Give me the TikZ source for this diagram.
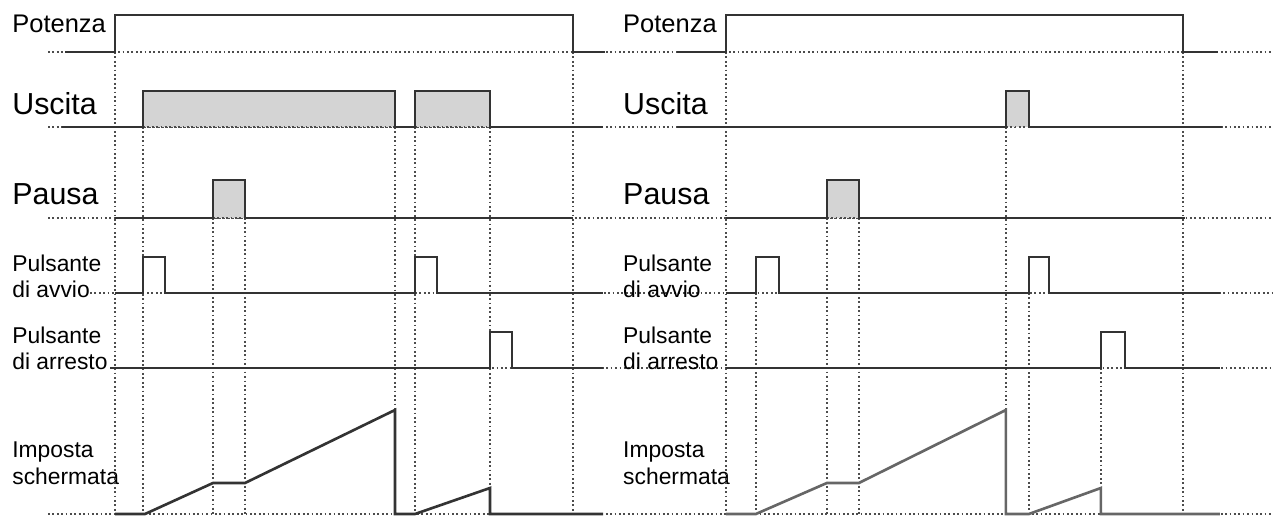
\documentclass[tikz,border=0pt]{standalone}
\usepackage{fontspec}
\setmainfont{Liberation Sans}

\begin{document}
\begin{tikzpicture}[x=0.02cm, y=-0.02cm,
  sig/.style={line width=1.5pt, draw=black!80},
  guide/.style={line width=1pt, dash pattern=on 1pt off 1.5pt, black!70},
  hi/.style={fill=black!17},
  lab/.style={anchor=base west, inner sep=0pt, font=\fontsize{13pt}{15pt}\selectfont},
  labmid/.style={lab, font=\fontsize{14.5pt}{17pt}\selectfont},
  labbig/.style={lab, font=\fontsize{17.3pt}{20pt}\selectfont}]
\useasboundingbox (0,0) rectangle (1276,518);

\draw[guide] (48,52) -- (1272,52);
\draw[guide] (48,127) -- (1272,127);
\draw[guide] (48,218) -- (1272,218);
\draw[guide] (90,293) -- (1272,293);
\draw[guide] (110,368) -- (1272,368);
\draw[guide] (48,514) -- (1272,514);

\node[labmid] (potL) at (12,32) {Potenza};
\node[labbig] (uscL) at (12,114) {Uscita};
\node[labbig] (pauL) at (12,204) {Pausa};
\node[lab] (avv1L) at (12,271) {Pulsante};
\node[lab] (avv2L) at (12,297) {di avvio};
\node[lab] (arr1L) at (12,343) {Pulsante};
\node[lab] (arr2L) at (12,369) {di arresto};
\node[lab] (impL) at (12,457) {Imposta};
\node[lab] (schL) at (12,484) {schermata};

\fill[hi] (143,91) rectangle (395,127);
\fill[hi] (415,91) rectangle (490,127);
\fill[hi] (213,180) rectangle (245,218);
\draw[guide] (143,127) -- (490,127);
\draw[guide] (213,218) -- (245,218);

\foreach \x/\y in {115/52, 143/127, 213/218, 245/218, 395/127, 415/127, 490/127, 573/52}
  \draw[guide] (\x,\y) -- (\x,514);

\draw[sig] (65,52) -- (115,52) -- (115,15) -- (573,15) -- (573,52) -- (605,52);
\draw[sig] (62,127) -- (143,127) -- (143,91) -- (395,91) -- (395,127) -- (415,127) -- (415,91) -- (490,91) -- (490,127) -- (603,127);
\draw[sig] (115,218) -- (213,218) -- (213,180) -- (245,180) -- (245,218) -- (573,218);
\draw[sig] (115,293) -- (143,293) -- (143,257) -- (165,257) -- (165,293) -- (415,293) -- (415,257) -- (437,257) -- (437,293) -- (603,293);
\draw[sig] (110,368) -- (490,368) -- (490,332) -- (512,332) -- (512,368) -- (603,368);
\draw[sig] (115,514) -- (145,514) -- (213,483) -- (245,483) -- (395,410) -- (395,514) -- (415,514) -- (490,488) -- (490,514) -- (603,514);

\begin{scope}[xshift=12.22cm]
\node[labmid] (potR) at (12,32) {Potenza};
\node[labbig] (uscR) at (12,114) {Uscita};
\node[labbig] (pauR) at (12,204) {Pausa};
\node[lab] (avv1R) at (12,271) {Pulsante};
\node[lab] (avv2R) at (12,297) {di avvio};
\node[lab] (arr1R) at (12,343) {Pulsante};
\node[lab] (arr2R) at (12,369) {di arresto};
\node[lab] (impR) at (12,457) {Imposta};
\node[lab] (schR) at (12,484) {schermata};

\fill[hi] (395,91) rectangle (418,127);
\fill[hi] (216,180) rectangle (248,218);
\draw[guide] (395,127) -- (418,127);
\draw[guide] (216,218) -- (248,218);

\foreach \x/\y in {115/52, 145/293, 216/218, 248/218, 395/127, 418/293, 490/368, 572/52}
  \draw[guide] (\x,\y) -- (\x,514);

\draw[sig] (66,52) -- (115,52) -- (115,15) -- (572,15) -- (572,52) -- (607,52);
\draw[sig] (66,127) -- (395,127) -- (395,91) -- (418,91) -- (418,127) -- (611,127);
\draw[sig] (115,218) -- (216,218) -- (216,180) -- (248,180) -- (248,218) -- (574,218);
\draw[sig] (115,293) -- (145,293) -- (145,257) -- (168,257) -- (168,293) -- (418,293) -- (418,257) -- (438,257) -- (438,293) -- (609,293);
\draw[sig] (115,368) -- (490,368) -- (490,332) -- (514,332) -- (514,368) -- (609,368);
\draw[sig, draw=black!60] (115,514) -- (145,514) -- (216,483) -- (248,483) -- (395,410) -- (395,514) -- (418,514) -- (490,488) -- (490,514) -- (609,514);
\end{scope}
\end{tikzpicture}
\end{document}
